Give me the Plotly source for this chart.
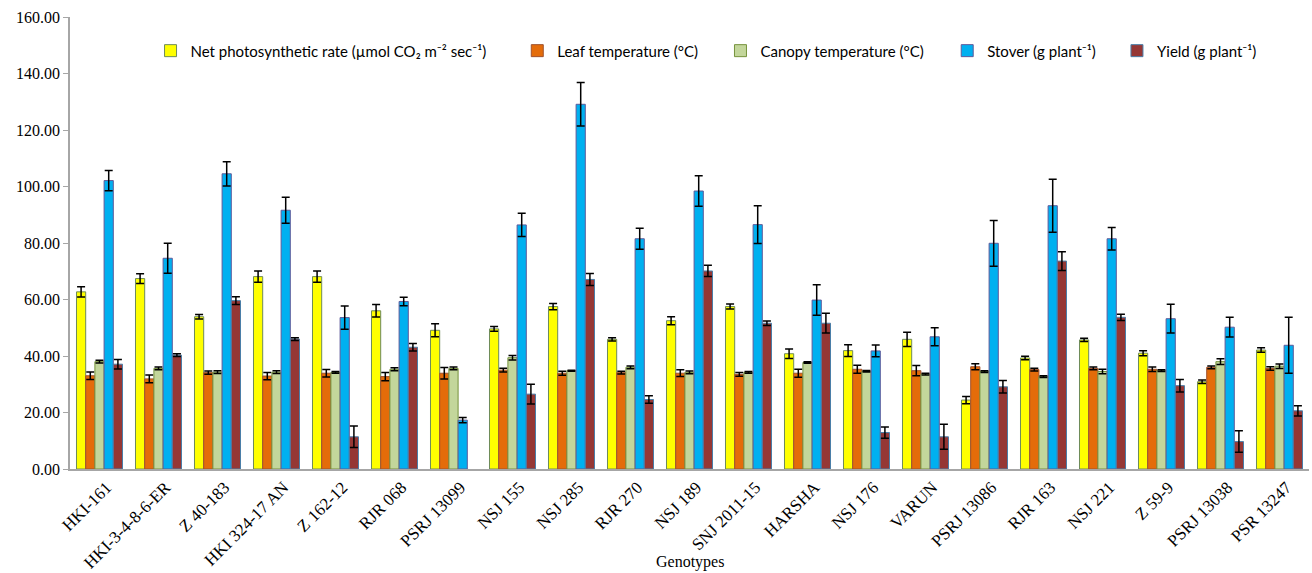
import plotly.graph_objects as go

genotypes = ["HKI-161", "HKI-3-4-8-6-ER", "Z 40-183", "HKI 324-17 AN", "Z 162-12", "RJR 068",
             "PSRJ 13099", "NSJ 155", "NSJ 285", "RJR 270", "NSJ 189", "SNJ 2011-15", "HARSHA",
             "NSJ 176", "VARUN", "PSRJ 13086", "RJR 163", "NSJ 221", "Z 59-9", "PSRJ 13038", "PSR 13247"]

net_photo = [62.7, 67.4, 53.9, 68.1, 68.1, 56.0, 49.1, 49.6, 57.5, 45.9, 52.5, 57.5, 40.8,
             41.9, 45.9, 24.4, 39.3, 45.7, 41.0, 30.9, 42.1]
net_photo_err = [1.8, 1.7, 0.8, 2.0, 2.0, 2.2, 2.3, 0.8, 1.1, 0.6, 1.4, 0.9, 1.7,
                 2.1, 2.5, 1.3, 0.6, 0.6, 0.9, 0.6, 0.8]

leaf_temp = [33.0, 31.9, 34.1, 32.9, 33.9, 32.7, 33.9, 35.0, 33.9, 34.1, 33.9, 33.5, 33.9,
             35.3, 34.8, 36.2, 35.2, 35.6, 35.3, 36.0, 35.6]
leaf_temp_err = [1.3, 1.4, 0.6, 1.3, 1.3, 1.5, 2.0, 0.7, 0.7, 0.5, 1.2, 0.7, 1.4,
                 1.4, 1.8, 1.1, 0.5, 0.5, 0.8, 0.5, 0.6]

canopy_temp = [38.0, 35.6, 34.3, 34.3, 34.2, 35.3, 35.6, 39.4, 34.8, 36.0, 34.2, 34.2, 37.7,
               34.6, 33.6, 34.5, 32.7, 34.5, 34.8, 38.0, 36.4]
canopy_temp_err = [0.5, 0.5, 0.5, 0.5, 0.3, 0.5, 0.5, 0.8, 0.2, 0.5, 0.5, 0.3, 0.3,
                   0.3, 0.3, 0.3, 0.3, 0.8, 0.3, 1.0, 0.8]

stover = [102.1, 74.6, 104.5, 91.6, 53.6, 59.3, 17.3, 86.4, 129.1, 81.5, 98.4, 86.5, 59.8,
          41.8, 46.8, 79.9, 93.2, 81.5, 53.2, 50.2, 43.8]
stover_err = [3.6, 5.3, 4.3, 4.6, 4.1, 1.5, 0.9, 4.1, 7.7, 3.7, 5.4, 6.7, 5.4,
              2.1, 3.2, 8.1, 9.4, 4.0, 5.1, 3.5, 9.9]

grain_yield = [37.1, 40.3, 59.6, 46.0, 11.4, 43.1, None, 26.5, 67.1, 24.6, 70.1, 51.6, 51.6,
               12.9, 11.4, 29.1, 73.6, 53.7, 29.5, 9.7, 20.6]
grain_yield_err = [1.7, 0.5, 1.4, 0.5, 3.8, 1.3, 0, 3.5, 2.1, 1.3, 2.0, 0.8, 3.5,
                   2.0, 4.4, 2.2, 3.3, 1.1, 2.2, 3.8, 1.8]

y_ticks = [0, 20, 40, 60, 80, 100, 120, 140, 160]

series = [
    ("Net photosynthetic rate (µmol CO\u2082 m\u207b\u00b2 sec\u207b\u00b9)", net_photo, net_photo_err, "#FFFF00", "#6E8B5A"),
    ("Leaf temperature (°C)", leaf_temp, leaf_temp_err, "#E46C0A", "#A0522D"),
    ("Canopy temperature (°C)", canopy_temp, canopy_temp_err, "#C3D69B", "#76923C"),
    ("Stover (g plant\u207b\u00b9)", stover, stover_err, "#00B0F0", "#5F5A9A"),
    ("Yield (g plant\u207b\u00b9)", grain_yield, grain_yield_err, "#953735", "#4A7EA8"),
]

# legend anchor positions (paper x) for each entry
legend_x = [0.065, 0.361, 0.525, 0.708, 0.845]
legend_ids = ["legend", "legend2", "legend3", "legend4", "legend5"]

fig = go.Figure()
for (name, vals, errs, color, line), lid in zip(series, legend_ids):
    fig.add_trace(go.Bar(
        x=genotypes, y=vals, name=name, legend=lid,
        marker=dict(color=color, line=dict(color=line, width=1)),
        error_y=dict(type="data", array=errs, visible=True, color="black", thickness=1.5, width=4),
    ))

legend_common = dict(orientation="h", yanchor="middle", y=0.925, xanchor="left",
                     font=dict(family="Lato, Open Sans, sans-serif", size=15),
                     bgcolor="rgba(0,0,0,0)", itemwidth=30)
layout_legends = {}
for lid, lx in zip(legend_ids, legend_x):
    layout_legends[lid] = dict(legend_common, x=lx)

fig.update_layout(
    width=1312, height=573,
    barmode="group", bargap=0.22, bargroupgap=0,
    plot_bgcolor="white", paper_bgcolor="white",
    margin=dict(l=70, r=3, t=17, b=104),
    font=dict(family="Liberation Serif, Times New Roman, serif", size=16, color="black"),
    showlegend=True,
    xaxis=dict(
        tickangle=-45, showline=True, linecolor="#A6A6A6", linewidth=1.5,
        ticks="", showgrid=False, automargin=False, ticklabelshift=7,
        tickfont=dict(family="Liberation Serif, Times New Roman, serif", size=17),
    ),
    yaxis=dict(
        range=[0, 160], tickvals=y_ticks, tickformat=".2f", automargin=False,
        showline=True, linecolor="#A6A6A6", linewidth=1.5,
        ticks="outside", ticklen=5, tickcolor="#A6A6A6",
        showgrid=False, zeroline=False,
        tickfont=dict(family="Liberation Serif, Times New Roman, serif", size=16),
    ),
    annotations=[dict(text="Genotypes", x=0.5, y=-0.206, xref="paper", yref="paper",
                      xanchor="center", yanchor="middle", showarrow=False,
                      font=dict(family="Liberation Serif, Times New Roman, serif", size=16))],
    **layout_legends,
)

fig.write_html("out.html", config={"displayModeBar": False},
               post_script="document.body.style.margin='0';document.body.style.overflow='hidden';")
